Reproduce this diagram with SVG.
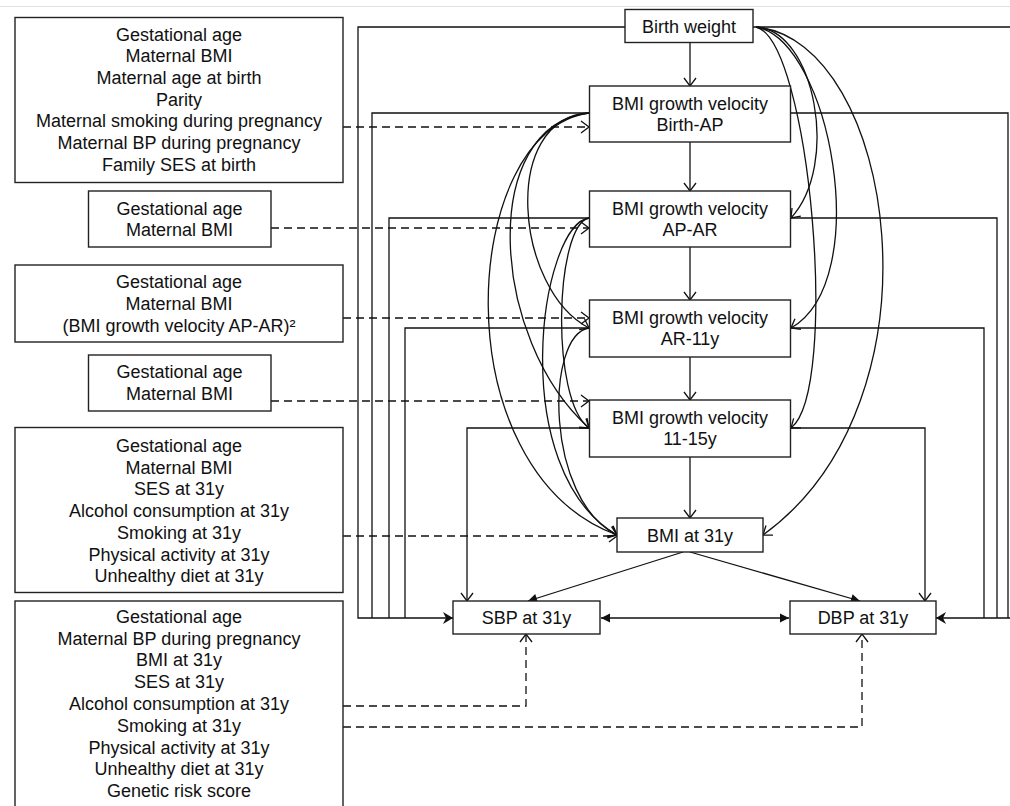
<svg xmlns="http://www.w3.org/2000/svg" width="1010" height="806" viewBox="0 0 1010 806">
<style>
.box{fill:#fff;stroke:#222;stroke-width:1.4}
.t{font-family:"Liberation Sans",Arial,sans-serif;font-size:18px;fill:#111;text-anchor:middle}
.ln{fill:none;stroke:#111;stroke-width:1.3}
.da{stroke-dasharray:8 5}
</style>
<defs>
<marker id="open" markerUnits="userSpaceOnUse" viewBox="-10 -7 12 14" refX="0" refY="0" markerWidth="12" markerHeight="14" orient="auto">
<path d="M-8,-6 L0,0 L-8,6" fill="none" stroke="#111" stroke-width="1.3" stroke-dasharray="none"/>
</marker>
<marker id="fill" markerUnits="userSpaceOnUse" viewBox="-10 -6 12 12" refX="0" refY="0" markerWidth="12" markerHeight="12" orient="auto-start-reverse">
<path d="M-9,-4.5 L0,0 L-9,4.5 Z" fill="#111"/>
</marker>
<marker id="bold" markerUnits="userSpaceOnUse" viewBox="-12 -7 14 14" refX="0" refY="0" markerWidth="14" markerHeight="14" orient="auto">
<path d="M-10,-6 L0,0 L-10,6 L-7,0 Z" fill="#111"/>
</marker>
</defs>
<rect width="1010" height="806" fill="#fff"/>
<line x1="0" y1="6.5" x2="1010" y2="6.5" stroke="#e2e2e2" stroke-width="1"/>

<g id="connectors">
<!-- main chain -->
<path class="ln" d="M690,43 V86" marker-end="url(#open)"/>
<path class="ln" d="M690,142 V191" marker-end="url(#open)"/>
<path class="ln" d="M690,247 V300" marker-end="url(#open)"/>
<path class="ln" d="M690,357 V400" marker-end="url(#open)"/>
<path class="ln" d="M690,457 V518" marker-end="url(#open)"/>
<path class="ln" d="M683,552 L528,601" marker-end="url(#fill)"/>
<path class="ln" d="M690,552 L860,601" marker-end="url(#fill)"/>
<path class="ln" d="M601,618 H789" marker-start="url(#fill)" marker-end="url(#fill)"/>
<!-- left collectors to SBP -->
<path class="ln" d="M625,27 H358 V618 H453" marker-end="url(#bold)"/>
<path class="ln" d="M589,113 H372 V618"/>
<path class="ln" d="M589,218 H389 V618"/>
<path class="ln" d="M589,328 H405 V618"/>
<path class="ln" d="M589,428 H467 V601" marker-end="url(#open)"/>
<!-- right collectors to DBP -->
<path class="ln" d="M753,27 H1013 V618 H936" marker-end="url(#bold)"/>
<path class="ln" d="M790,113 H1008 V618"/>
<path class="ln" d="M790,218 H997 V618"/>
<path class="ln" d="M790,328 H984 V618"/>
<path class="ln" d="M790,428 H925 V601" marker-end="url(#open)"/>
<!-- left curves -->
<path class="ln" d="M589,113 C460,130 440,470 617,535" marker-end="url(#open)"/>
<path class="ln" d="M589,113 C478,125 490,340 589,428" marker-end="url(#open)"/>
<path class="ln" d="M589,113 C500,118 515,290 589,328" marker-end="url(#open)"/>
<path class="ln" d="M589,218 C540,225 505,470 617,535" marker-end="url(#open)"/>
<path class="ln" d="M589,218 C555,225 550,400 589,428" marker-end="url(#open)"/>
<path class="ln" d="M589,328 C545,335 545,500 617,535" marker-end="url(#open)"/>
<!-- right curves -->
<path class="ln" d="M756,27 C815,30 840,165 791,218" marker-end="url(#open)"/>
<path class="ln" d="M756,27 C830,40 875,280 791,328" marker-end="url(#open)"/>
<path class="ln" d="M756,27 C810,40 840,390 791,428" marker-end="url(#open)"/>
<path class="ln" d="M756,27 C895,40 950,400 763,535" marker-end="url(#open)"/>
<!-- dashed confounder arrows -->
<path class="ln da" d="M343,127 H589" marker-end="url(#open)"/>
<path class="ln da" d="M271,228 H589" marker-end="url(#open)"/>
<path class="ln da" d="M343,318 H589" marker-end="url(#open)"/>
<path class="ln da" d="M271,401 H589" marker-end="url(#open)"/>
<path class="ln da" d="M343,536 H617" marker-end="url(#open)"/>
<path class="ln da" d="M343,706 H526 V634" marker-end="url(#open)"/>
<path class="ln da" d="M343,727 H862 V634" marker-end="url(#open)"/>
</g>

<g id="n-bw"><rect class="box" x="625" y="9.5" width="128" height="33"/><text class="t" x="689" y="32.5">Birth weight</text></g>
<g id="n-v1"><rect class="box" x="589.5" y="86" width="201" height="56"/><text class="t" x="690" y="109.5">BMI growth velocity</text><text class="t" x="690" y="131">Birth-AP</text></g>
<g id="n-v2"><rect class="box" x="589.5" y="191" width="201" height="56"/><text class="t" x="690" y="214.5">BMI growth velocity</text><text class="t" x="690" y="236">AP-AR</text></g>
<g id="n-v3"><rect class="box" x="589.5" y="300" width="201" height="57"/><text class="t" x="690" y="323.5">BMI growth velocity</text><text class="t" x="690" y="345">AR-11y</text></g>
<g id="n-v4"><rect class="box" x="589.5" y="400" width="201" height="57"/><text class="t" x="690" y="423.5">BMI growth velocity</text><text class="t" x="690" y="445">11-15y</text></g>
<g id="n-bmi"><rect class="box" x="617" y="518" width="146" height="34"/><text class="t" x="690" y="541.5">BMI at 31y</text></g>
<g id="n-sbp"><rect class="box" x="453" y="601" width="147" height="33"/><text class="t" x="526.5" y="624">SBP at 31y</text></g>
<g id="n-dbp"><rect class="box" x="790" y="601" width="146" height="33"/><text class="t" x="863" y="624">DBP at 31y</text></g>

<g id="c1"><rect class="box" x="15" y="17.5" width="328" height="165"/>
<text class="t" x="179" y="40.5">Gestational age</text>
<text class="t" x="179" y="62.2">Maternal BMI</text>
<text class="t" x="179" y="83.9">Maternal age at birth</text>
<text class="t" x="179" y="105.6">Parity</text>
<text class="t" x="179" y="127.3">Maternal smoking during pregnancy</text>
<text class="t" x="179" y="149">Maternal BP during pregnancy</text>
<text class="t" x="179" y="170.7">Family SES at birth</text></g>
<g id="c2"><rect class="box" x="88.5" y="191" width="182.5" height="56"/>
<text class="t" x="179.5" y="214.5">Gestational age</text>
<text class="t" x="179.5" y="236">Maternal BMI</text></g>
<g id="c3"><rect class="box" x="15" y="265" width="328" height="77"/>
<text class="t" x="179" y="288.3">Gestational age</text>
<text class="t" x="179" y="310">Maternal BMI</text>
<text class="t" x="179" y="331.7">(BMI growth velocity AP-AR)²</text></g>
<g id="c4"><rect class="box" x="88.5" y="355" width="182.5" height="56"/>
<text class="t" x="179.5" y="378.3">Gestational age</text>
<text class="t" x="179.5" y="400">Maternal BMI</text></g>
<g id="c5"><rect class="box" x="15" y="427.5" width="328" height="165"/>
<text class="t" x="179" y="452">Gestational age</text>
<text class="t" x="179" y="473.7">Maternal BMI</text>
<text class="t" x="179" y="495.4">SES at 31y</text>
<text class="t" x="179" y="517.1">Alcohol consumption at 31y</text>
<text class="t" x="179" y="538.8">Smoking at 31y</text>
<text class="t" x="179" y="560.5">Physical activity at 31y</text>
<text class="t" x="179" y="582.2">Unhealthy diet at 31y</text></g>
<g id="c6"><rect class="box" x="15" y="601" width="328" height="220"/>
<text class="t" x="179" y="622.7">Gestational age</text>
<text class="t" x="179" y="644.5">Maternal BP during pregnancy</text>
<text class="t" x="179" y="666.3">BMI at 31y</text>
<text class="t" x="179" y="688.1">SES at 31y</text>
<text class="t" x="179" y="709.9">Alcohol consumption at 31y</text>
<text class="t" x="179" y="731.7">Smoking at 31y</text>
<text class="t" x="179" y="753.5">Physical activity at 31y</text>
<text class="t" x="179" y="775.3">Unhealthy diet at 31y</text>
<text class="t" x="179" y="797.1">Genetic risk score</text></g>
</svg>
